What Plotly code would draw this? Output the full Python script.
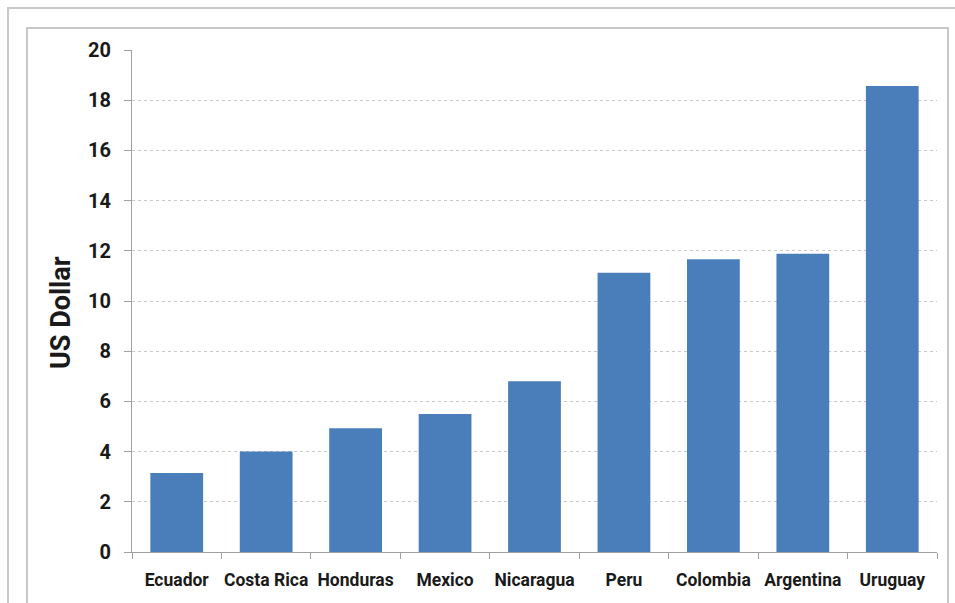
import plotly.graph_objects as go

countries = ["Ecuador", "Costa Rica", "Honduras", "Mexico", "Nicaragua",
             "Peru", "Colombia", "Argentina", "Uruguay"]
values = [3.15, 4.0, 4.93, 5.5, 6.8, 11.13, 11.66, 11.88, 18.57]
y_ticks = [0, 2, 4, 6, 8, 10, 12, 14, 16, 18, 20]

FONT = "Roboto, Liberation Sans, Arial, sans-serif"

W, H = 955, 603
L, R, T, B = 132, 18, 50, 51
pw, ph = W - L - R, H - T - B

def px(x):
    return (x - L) / pw

def py(y):
    return (H - B - y) / ph

fig = go.Figure(go.Bar(
    x=countries, y=values,
    marker=dict(color="#4A7EBB", line=dict(width=0)),
    width=0.59,
))

fig.update_layout(
    width=W, height=H,
    margin=dict(l=L, r=R, t=T, b=B),
    paper_bgcolor="white", plot_bgcolor="white",
    showlegend=False,
    font=dict(family=FONT, color="#1a1a1a"),
    xaxis=dict(
        type="category",
        tickson="boundaries",
        tickangle=0,
        automargin=False,
        ticks="outside", ticklen=6, tickcolor="#a0a0a0",
        showline=True, linecolor="#a0a0a0", linewidth=1,
        showgrid=False,
        tickfont=dict(size=17.5, family=FONT, weight="bold"),
        ticklabelstandoff=12,
    ),
    yaxis=dict(
        range=[0, 20],
        tickvals=y_ticks,
        automargin=False,
        ticks="outside", ticklen=7, tickcolor="#a0a0a0",
        showline=True, linecolor="#a0a0a0", linewidth=1,
        showgrid=True, gridcolor="#c8c8c8", griddash="dot", gridwidth=1,
        zeroline=False,
        tickfont=dict(size=20, family=FONT, weight="bold"),
        ticklabelstandoff=9,
    ),
    shapes=[
        dict(type="rect", xref="paper", yref="paper",
             x0=px(8), x1=px(975), y0=py(620), y1=py(8),
             line=dict(color="#c8c8c8", width=2), layer="below"),
        dict(type="rect", xref="paper", yref="paper",
             x0=px(27), x1=px(948), y0=py(620), y1=py(28),
             line=dict(color="#c8c8c8", width=2), layer="below"),
    ],
    annotations=[
        dict(text="US Dollar", xref="paper", yref="paper",
             x=px(61), y=py(313), textangle=-90, showarrow=False,
             xanchor="center", yanchor="middle",
             font=dict(size=27, family=FONT, weight="bold", color="#1a1a1a")),
    ],
)

fig.write_html("out.html")
